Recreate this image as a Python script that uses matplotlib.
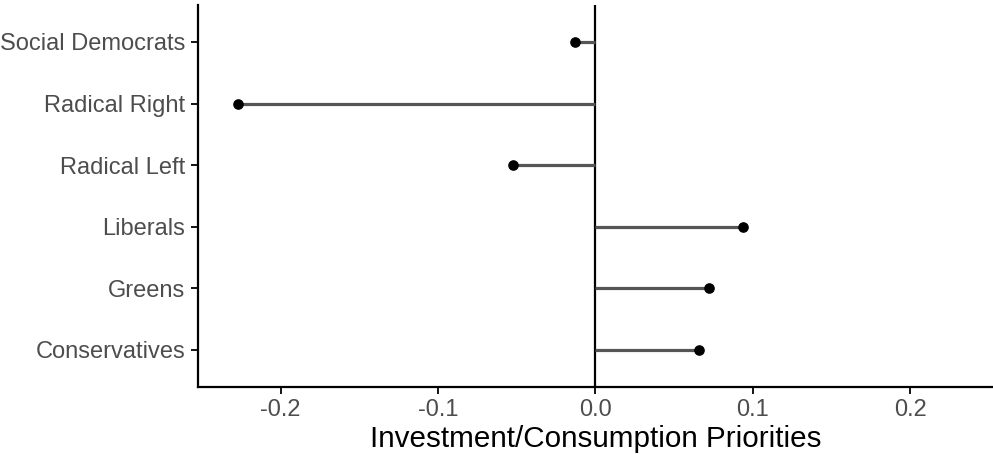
import matplotlib
matplotlib.use("Agg")
import matplotlib.pyplot as plt

# party families, bottom to top
parties = ["Conservatives", "Greens", "Liberals", "Radical Left", "Radical Right", "Social Democrats"]
priorities = [0.066, 0.072, 0.094, -0.052, -0.227, -0.013]
xticks = [-0.2, -0.1, 0.0, 0.1, 0.2]

plt.rcParams['font.family'] = ['Liberation Sans', 'DejaVu Sans']

fig = plt.figure(figsize=(9.93, 4.54), dpi=100)
ax = fig.add_axes([0.199, 0.148, 0.801, 0.841])

ypos = list(range(1, len(parties) + 1))
ax.axvline(0, color='black', lw=1.6, zorder=1)
ax.hlines(ypos, 0, priorities, color='#555555', lw=2.3, zorder=2)
ax.scatter(priorities, ypos, s=44, color='black', zorder=3)

ax.set_xlim(-0.2527, 0.2527)
ax.set_ylim(0.4, 6.6)
ax.set_yticks(ypos)
ax.set_yticklabels(parties)
ax.set_xticks(xticks)
ax.set_xticklabels(["%.1f" % t for t in xticks])

for side in ['top', 'right']:
    ax.spines[side].set_visible(False)
for side in ['left', 'bottom']:
    ax.spines[side].set_linewidth(1.6)
ax.tick_params(axis='both', labelsize=17, labelcolor='#4D4D4D', length=5, width=1.3, pad=4)
ax.set_xlabel("Investment/Consumption Priorities", fontsize=21.3, color='black', labelpad=3)

fig.savefig("out.png", dpi=100)
